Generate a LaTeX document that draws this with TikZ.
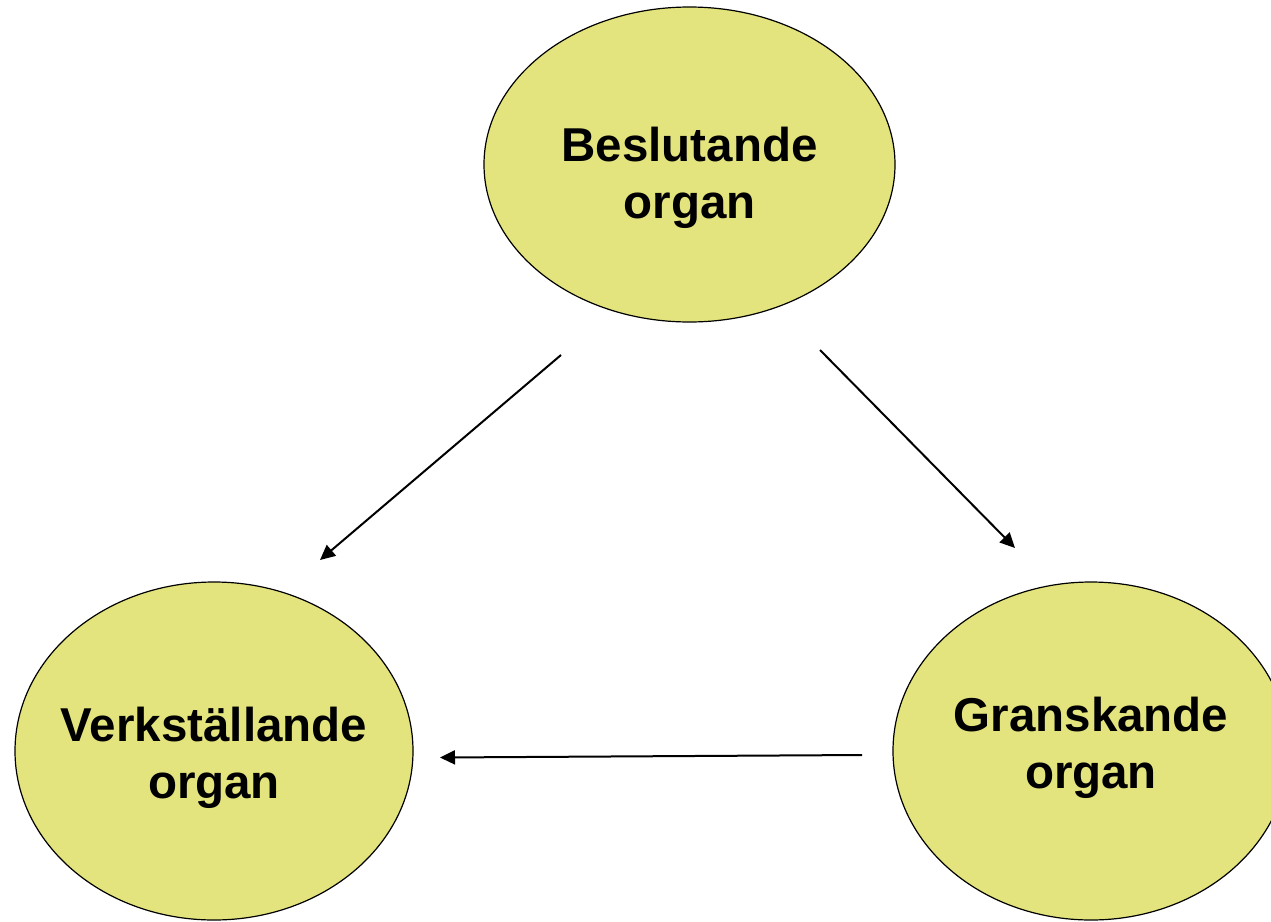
\documentclass[tikz,border=0pt]{standalone}
\usepackage{fontspec}
\setmainfont{Liberation Sans}
\usetikzlibrary{shapes.geometric, arrows.meta}

\definecolor{organfill}{RGB}{228,228,126}

\tikzset{
  organ/.style={draw, ellipse, fill=organfill, line width=1.2pt, inner sep=0pt},
  organtext/.style={font=\bfseries\fontsize{47.5}{57}\selectfont, align=center},
  flow/.style={line width=2pt, -{Triangle[length=15pt,width=14pt]}}
}

\begin{document}
\begin{tikzpicture}[x=1pt, y=-1pt]
        \useasboundingbox (0,0) rectangle (1271,921);

        % the three organs
        \node[organ, minimum width=411, minimum height=315] (beslut) at (689.5,164.5) {};
        \node[organ, minimum width=398, minimum height=338] (verk) at (214,751) {};
        \node[organ, minimum width=396, minimum height=338] (gransk) at (1091,751) {};

        \node[organtext, yshift=-13.5pt] (beslut-txt) at (beslut.center) {Beslutande\\organ};
        \node[organtext, yshift=-7pt] (verk-txt) at (verk.center) {Verkställande\\organ};
        \node[organtext, yshift=3pt] (gransk-txt) at (gransk.center) {Granskande\\organ};

        % arrow ends, free of the ellipses
        \coordinate (bv1) at ([shift={(-128.5,190.5)}]beslut.center);
        \coordinate (bv2) at ([shift={(106,-191)}]verk.center);
        \coordinate (bg1) at ([shift={(130.5,185.5)}]beslut.center);
        \coordinate (bg2) at ([shift={(-76,-203)}]gransk.center);
        \coordinate (gv1) at ([shift={(-229,4)}]gransk.center);
        \coordinate (gv2) at ([shift={(226,6.5)}]verk.center);

        \draw[flow] (bv1) -- (bv2);
        \draw[flow] (bg1) -- (bg2);
        \draw[flow] (gv1) -- (gv2);
    \end{tikzpicture}
\end{document}
